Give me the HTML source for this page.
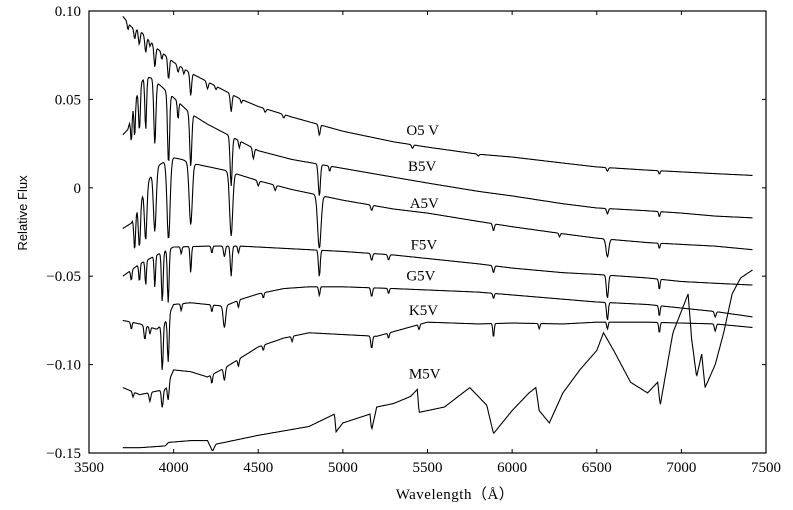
<!DOCTYPE html>
<html><head><meta charset="utf-8">
<style>
html,body{margin:0;padding:0;background:#fff;}
svg{display:block;}
text{font-family:"Liberation Serif",serif;fill:#000;}
</style></head>
<body>
<svg id="chart" width="793" height="510" viewBox="0 0 793 510">
  <rect x="89" y="11" width="677" height="442" fill="none" stroke="#000" stroke-width="1.2"/>
  <g id="ticks"></g>
  <g id="series"></g>
  <g id="labels"></g>
  <text x="27" y="213" transform="rotate(-90 27 213)" text-anchor="middle" style="font-family:'Liberation Sans',sans-serif;font-size:13px">Relative Flux</text>
  <text x="455" y="499" text-anchor="middle" style="font-family:'Liberation Serif',serif;font-size:15px;letter-spacing:0.5px">Wavelength（Å）</text>
</svg>
<script>
const xTicks = [3500,4000,4500,5000,5500,6000,6500,7000,7500];
const yTicks = [0.10,0.05,0,-0.05,-0.10,-0.15];
const yTickLabels = ["0.10","0.05","0","\u22120.05","\u22120.10","\u22120.15"];
const seriesNames = ["O5 V","B5V","A5V","F5V","G5V","K5V","M5V"];
const labelWl = [5375,5385,5395,5400,5375,5390,5390];
const labelFlux = [0.030,0.0095,-0.0115,-0.035,-0.0525,-0.072,-0.108];

const o5Wl = [3700,3750,3800,3850,3900,3950,4000,4100,4200,4300,4400,4500,4700,5000,5300,5500,5800,6000,6300,6500,6800,7000,7200,7420];
const o5Flux = [0.097,0.091,0.089,0.084,0.079,0.075,0.071,0.065,0.060,0.055,0.050,0.046,0.040,0.032,0.026,0.023,0.019,0.0174,0.014,0.0118,0.010,0.009,0.008,0.007];
const o5Lines = [[3730,0.004,4],[3770,0.006,5],[3797,0.008,5],[3835,0.009,5],[3860,0.003,4],[3889,0.012,5],[3930,0.004,4],[3970,0.012,5],[4026,0.004,5],[4060,0.003,4],[4101,0.013,5],[4200,0.004,5],[4250,0.002,4],[4340,0.010,5],[4400,0.002,4],[4541,0.002,5],[4650,0.002,5],[4861,0.006,5],[5411,0.002,5],[5800,0.001,5],[6563,0.002,5],[6870,0.002,4]];

const b5Wl = [3700,3730,3760,3800,3830,3870,3920,4000,4100,4200,4300,4500,4700,5000,5300,5500,5800,6000,6300,6500,6800,7000,7200,7420];
const b5Flux = [0.030,0.033,0.045,0.058,0.063,0.062,0.058,0.051,0.042,0.036,0.031,0.021,0.016,0.011,0.006,0.0027,-0.002,-0.0046,-0.009,-0.0114,-0.013,-0.0143,-0.016,-0.017];
const b5Lines = [[3750,0.015,4],[3770,0.02,4],[3798,0.025,5],[3835,0.03,5],[3889,0.036,6],[3970,0.04,6],[4026,0.01,4],[4101,0.03,6],[4340,0.028,6],[4388,0.004,4],[4471,0.006,5],[4922,0.003,4],[4861,0.018,6],[6563,0.003,5],[6870,0.003,4]];

const a5Wl = [3700,3750,3800,3850,3900,3950,4000,4050,4100,4200,4300,4400,4500,4700,5000,5300,5500,5800,6000,6300,6500,6800,7000,7200,7420];
const a5Flux = [-0.023,-0.020,-0.008,0.004,0.012,0.015,0.017,0.016,0.014,0.012,0.010,0.007,0.004,-0.001,-0.007,-0.012,-0.0143,-0.019,-0.022,-0.026,-0.0285,-0.031,-0.032,-0.033,-0.035];
const a5Lines = [[3770,0.02,5],[3798,0.025,6],[3835,0.03,7],[3889,0.035,8],[3970,0.045,9],[4101,0.035,9],[4340,0.036,9],[4500,0.003,5],[4600,0.003,5],[4861,0.030,10],[5170,0.003,5],[5890,0.004,5],[6280,0.002,4],[6563,0.010,8],[6870,0.003,4]];

const f5Wl = [3700,3800,3900,4000,4200,4400,4600,4800,5000,5300,5500,5800,6000,6300,6500,6800,7000,7200,7420];
const f5Flux = [-0.050,-0.043,-0.038,-0.0335,-0.033,-0.033,-0.034,-0.035,-0.036,-0.038,-0.040,-0.043,-0.0454,-0.048,-0.049,-0.051,-0.053,-0.054,-0.055];
const f5Lines = [[3750,0.006,4],[3798,0.010,4],[3835,0.014,4],[3889,0.018,4],[3933,0.028,5],[3968,0.030,5],[4045,0.004,4],[4101,0.015,4],[4226,0.004,4],[4300,0.006,5],[4340,0.017,5],[4383,0.004,4],[4861,0.015,5],[5170,0.004,5],[5270,0.003,5],[5890,0.004,5],[6563,0.013,6],[6870,0.006,4]];

const g5Wl = [3700,3800,3900,3950,4000,4100,4200,4300,4400,4500,4650,4800,5000,5300,5500,5800,6000,6300,6500,6800,7000,7200,7420];
const g5Flux = [-0.075,-0.077,-0.080,-0.076,-0.066,-0.065,-0.066,-0.067,-0.063,-0.060,-0.057,-0.056,-0.056,-0.057,-0.0578,-0.059,-0.0606,-0.063,-0.0646,-0.066,-0.068,-0.070,-0.073];
const g5Lines = [[3750,0.004,4],[3830,0.008,5],[3860,0.004,4],[3933,0.026,5],[3968,0.026,5],[4045,0.004,4],[4226,0.004,4],[4300,0.012,7],[4383,0.004,4],[4530,0.003,4],[4861,0.005,4],[5170,0.005,5],[5270,0.003,4],[5890,0.003,4],[6563,0.010,5],[6870,0.006,4],[7200,0.003,5]];

const k5Wl = [3700,3800,3900,3950,4000,4100,4200,4300,4400,4500,4650,4800,5000,5200,5500,5800,6000,6300,6500,6800,7000,7200,7420];
const k5Flux = [-0.113,-0.117,-0.115,-0.114,-0.103,-0.104,-0.107,-0.102,-0.096,-0.090,-0.085,-0.082,-0.083,-0.084,-0.076,-0.077,-0.0765,-0.077,-0.076,-0.076,-0.0765,-0.077,-0.079];
const k5Lines = [[3760,0.003,4],[3860,0.005,5],[3933,0.010,5],[3968,0.010,5],[4226,0.005,4],[4300,0.007,5],[4383,0.004,4],[4530,0.003,4],[4700,0.003,4],[5170,0.007,5],[5270,0.003,4],[5450,0.003,4],[5890,0.008,4],[6160,0.003,4],[6563,0.004,4],[6870,0.006,4],[7200,0.004,5]];

const m5Wl = [3700,3800,3950,3970,4100,4200,4230,4250,4500,4800,4950,4960,5000,5160,5170,5200,5300,5400,5440,5450,5600,5750,5850,5890,6000,6100,6140,6160,6220,6300,6400,6500,6540,6600,6700,6800,6860,6875,6950,7040,7060,7090,7120,7140,7200,7250,7300,7350,7420];
const m5Flux = [-0.147,-0.147,-0.146,-0.144,-0.143,-0.143,-0.149,-0.145,-0.140,-0.135,-0.128,-0.138,-0.133,-0.128,-0.137,-0.124,-0.122,-0.118,-0.114,-0.127,-0.124,-0.113,-0.123,-0.139,-0.126,-0.116,-0.113,-0.126,-0.133,-0.116,-0.103,-0.092,-0.082,-0.092,-0.110,-0.116,-0.110,-0.123,-0.082,-0.060,-0.085,-0.107,-0.094,-0.113,-0.100,-0.082,-0.060,-0.051,-0.0465];
const m5Lines = [];

const allWl = [o5Wl,b5Wl,a5Wl,f5Wl,g5Wl,k5Wl,m5Wl];
const allFlux = [o5Flux,b5Flux,a5Flux,f5Flux,g5Flux,k5Flux,m5Flux];
const allLines = [o5Lines,b5Lines,a5Lines,f5Lines,g5Lines,k5Lines,m5Lines];

const NS = "http://www.w3.org/2000/svg";
const X0=89, X1=766, Y0=11, Y1=453;
function xs(w){ return X0 + (w-3500)/(7500-3500)*(X1-X0); }
function ys(f){ return Y0 + (0.10-f)/(0.25)*(Y1-Y0); }
function interp(wl, fl, w){
  if (w<=wl[0]) return fl[0];
  for (let i=1;i<wl.length;i++){ if (w<=wl[i]){ const t=(w-wl[i-1])/(wl[i]-wl[i-1]); return fl[i-1]+t*(fl[i]-fl[i-1]); } }
  return fl[fl.length-1];
}
const tg = document.getElementById('ticks');
xTicks.forEach((v,i)=>{
  const x = xs(v);
  [[Y1,Y1-4],[Y0,Y0+4]].forEach(p=>{
    const l=document.createElementNS(NS,'line');
    l.setAttribute('x1',x);l.setAttribute('x2',x);l.setAttribute('y1',p[0]);l.setAttribute('y2',p[1]);
    l.setAttribute('stroke','#000');
    
    
    tg.appendChild(l);
  });
  const t=document.createElementNS(NS,'text');
  t.setAttribute('x',x);t.setAttribute('y',472);t.setAttribute('text-anchor','middle');
  t.setAttribute('style',"font-family:'Liberation Serif',serif;font-size:15px");
  t.textContent = v;
  
  
  tg.appendChild(t);
});
yTicks.forEach((v,i)=>{
  const y = ys(v);
  [[X0,X0+4],[X1,X1-4]].forEach(p=>{
    const l=document.createElementNS(NS,'line');
    l.setAttribute('x1',p[0]);l.setAttribute('x2',p[1]);l.setAttribute('y1',y);l.setAttribute('y2',y);
    l.setAttribute('stroke','#000');
    
    
    tg.appendChild(l);
  });
  const t=document.createElementNS(NS,'text');
  t.setAttribute('x',81);t.setAttribute('y',y+5);t.setAttribute('text-anchor','end');
  t.setAttribute('style',"font-family:'Liberation Serif',serif;font-size:15px");
  t.textContent = yTickLabels[i];
  
  
  tg.appendChild(t);
});
const sg = document.getElementById('series');
const lg = document.getElementById('labels');
allWl.forEach((wl,si)=>{
  const fl = allFlux[si], lines = allLines[si];
  const pts=[];
  for (let w=3700; w<=7420; w+=4){
    let f = interp(wl, fl, w);
    lines.forEach(L=>{ const d=(w-L[0])/L[2]; f -= L[1]*Math.exp(-0.5*d*d); });
    pts.push(xs(w).toFixed(1)+','+ys(f).toFixed(1));
  }
  const p=document.createElementNS(NS,'polyline');
  p.setAttribute('points',pts.join(' '));
  p.setAttribute('fill','none');p.setAttribute('stroke','#000');p.setAttribute('stroke-width','1.1');
  
  
  sg.appendChild(p);
  const t=document.createElementNS(NS,'text');
  t.setAttribute('x',xs(labelWl[si]));t.setAttribute('y',ys(labelFlux[si]));
  t.setAttribute('style',"font-family:'Liberation Serif',serif;font-size:15px");
  t.textContent = seriesNames[si];
  
  
  lg.appendChild(t);
});
</script>
</body></html>
